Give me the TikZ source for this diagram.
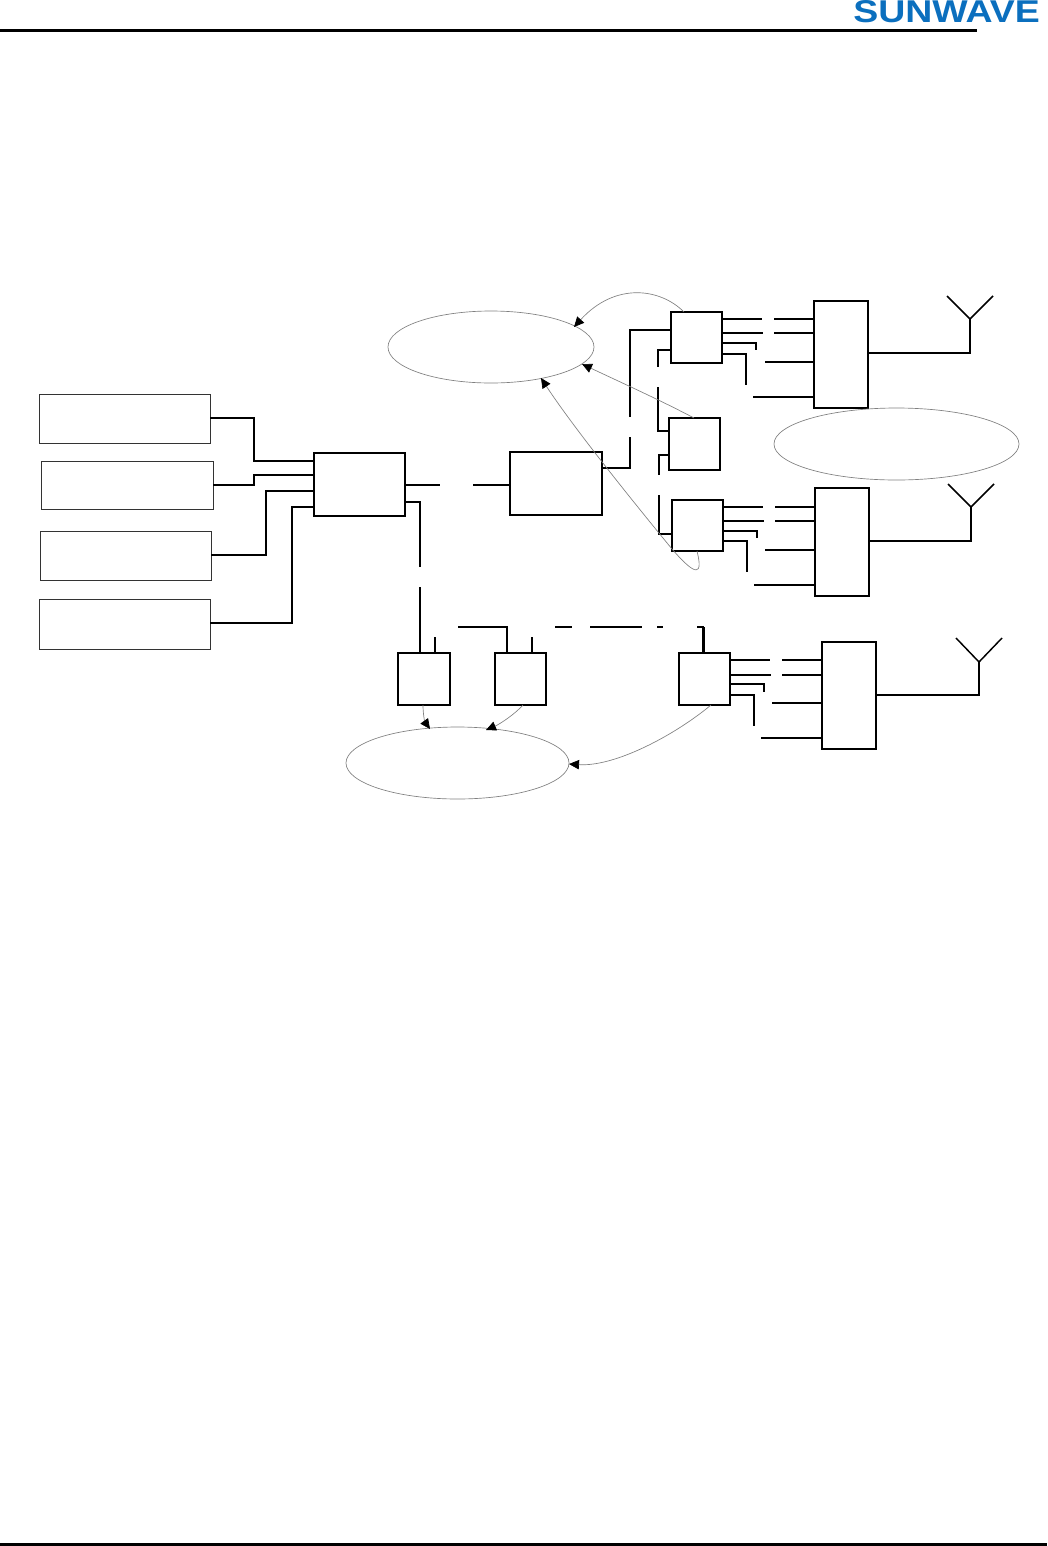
\documentclass[tikz,border=0pt]{standalone}
\usepackage{fontspec}
\usepackage{graphicx}
\setmainfont{Liberation Sans}
\usetikzlibrary{arrows.meta,calc}
\definecolor{logoblue}{HTML}{0B6FBE}
\definecolor{curvegrey}{HTML}{808080}
\tikzset{
  x=0.75pt,y=-0.75pt,
  thinbox/.style={draw=black!80,line width=0.6pt,inner sep=0pt,outer sep=0pt},
  blockbox/.style={draw=black,line width=1.1pt,inner sep=0pt,outer sep=0pt},
  cloud oval/.style={draw=curvegrey,line width=0.5pt,inner sep=0pt,outer sep=0pt},
  wire/.style={draw=black,line width=1.1pt,line join=miter},
  heavy/.style={wire,line width=1.7pt},
  link/.style={draw=curvegrey,line width=0.5pt,-{Triangle[length=7.5pt,width=7pt,fill=black,color=black]}},
  rule/.style={draw=black,line width=2.2pt}
}
\newcommand{\boxat}[6]{% style,name,x1,y1,x2,y2
  \node[#1,minimum width={(#5-#3)*0.75pt},minimum height={(#6-#4)*0.75pt},anchor=north west] (#2) at (#3,#4) {};}
\begin{document}
\begin{tikzpicture}
\path[use as bounding box] (0,0) rectangle (1047,1546);
% header / footer
\coordinate (hl) at (0,30.5); \coordinate (hr) at (977,30.5);
\coordinate (fl) at (0,1544.5); \coordinate (fr) at (1047,1544.5);
\draw[rule] (hl) -- (hr);
\draw[rule] (fl) -- (fr);
\node[anchor=south west,inner sep=0pt,text=logoblue] (logo) at (853,23)
  {\resizebox{140pt}{16.5pt}{\bfseries SUNWAVE}};
% left boxes
\boxat{thinbox}{ra}{39}{394}{210}{443}
\boxat{thinbox}{rb}{41}{461}{213}{509}
\boxat{thinbox}{rc}{40}{531}{211}{580}
\boxat{thinbox}{rd}{39}{599}{210}{649}
% blocks
\boxat{blockbox}{hub}{314}{453}{405}{516}
\boxat{blockbox}{mid}{510}{452}{602}{515}
\boxat{blockbox}{ea}{671}{312}{722}{363}
\boxat{blockbox}{eb}{669}{418}{720}{470}
\boxat{blockbox}{ec}{672}{500}{723}{551}
\boxat{blockbox}{aa}{814}{301}{868}{408}
\boxat{blockbox}{ab}{815}{488}{869}{596}
\boxat{blockbox}{ac}{822}{642}{876}{749}
\boxat{blockbox}{la}{398}{653}{450}{705}
\boxat{blockbox}{lb}{495}{653}{546}{705}
\boxat{blockbox}{lc}{679}{653}{730}{705}
% heavier edges of the blocks
\draw[heavy] (mid.north east) -- (mid.south east);
\draw[heavy] (ea.north west) -- (ea.south west) -- (ea.south east);
\draw[heavy] (aa.north west) -- (aa.south west);
\draw[heavy] (ab.north west) -- (ab.north east);
\draw[heavy] (lc.south west) -- (lc.south east);
\draw[heavy] (la.north east) -- (la.south east);
% ellipses
\draw[cloud oval] (491,347) ellipse [x radius=103,y radius=36] node (ovala) {};
\draw[cloud oval] (896.5,444) ellipse [x radius=122.5,y radius=36] node (ovalb) {};
\draw[cloud oval] (457.5,763) ellipse [x radius=111.5,y radius=36] node (ovalc) {};
\coordinate (ta) at (574,327);
\coordinate (tb) at (582,364);
\coordinate (tc) at (541,378);
\coordinate (td) at (430,729);
\coordinate (te) at (486,730);
\coordinate (tf) at (569,764);
% left to hub
\draw[wire] (ra.east |- 0,418) -| (254,461) -- (hub.west |- 0,461);
\draw[wire] (rb.east |- 0,485) -| (254,475) -- (hub.west |- 0,475);
\draw[wire] (rc.east |- 0,555) -| (266,491) -- (hub.west |- 0,491);
\draw[wire] (rd.east |- 0,623) -| (292,507) -- (hub.west |- 0,507);
% hub to mid
\draw[wire] (hub.east |- 0,485) -- (440,485) coordinate (g1);
\draw[wire] (mid.west |- 0,485) -- (473,485) coordinate (g2);
% hub to lower row
\draw[wire] (hub.east |- 0,502) -| (420,567) coordinate (g3);
\draw[wire] (la.north -| 420,0) -- (420,587) coordinate (g4);
\draw[wire] (la.north -| 435,0) -- (435,637) coordinate (g5);
\draw[wire] (lb.north -| 507,0) |- (458,627) coordinate (g6);
\draw[wire] (lb.north -| 532,0) -- (532,637) coordinate (g7);
\draw[wire] (555,627) coordinate (g8) -- (572,627) coordinate (g9);
\draw[wire] (590,627) coordinate (g10) -- (642,627) coordinate (g11);
\draw[wire] (657,627) coordinate (g12) -- (663,627) coordinate (g13);
\draw[heavy] (lc.north -| 703.5,0) -- (703.5,627);
\draw[wire] (703.5,627) -- (697,627) coordinate (g14);
% mid to upper column
\draw[wire] (mid.east |- 0,468) -| (630,437) coordinate (h1);
\draw[heavy] (ea.west |- 0,330) -| (630,417) coordinate (h2);
\draw[wire] (ea.west |- 0,350) -| (658,367) coordinate (h3);
\draw[wire] (eb.west |- 0,431) -| (658,387) coordinate (h4);
\draw[wire] (eb.west |- 0,455) -| (659,475) coordinate (h5);
\draw[wire] (ec.west |- 0,534) -| (659,495) coordinate (h6);
% first branch to antenna box
\draw[wire] (ea.east |- 0,319) -- (762,319) coordinate (i1);
\draw[wire] (aa.west |- 0,319) -- (774,319) coordinate (i2);
\draw[wire] (ea.east |- 0,333) -- (763,333) coordinate (i3);
\draw[wire] (aa.west |- 0,333) -- (774,333) coordinate (i4);
\draw[wire] (ea.east |- 0,343) -| (756,349.5) coordinate (i5);
\draw[wire] (ea.east |- 0,354) -| (746,385) coordinate (i6);
\draw[wire] (aa.west |- 0,362) -- (765,362) coordinate (i7);
\draw[wire] (aa.west |- 0,397) -- (753,397) coordinate (i8);
% second branch
\draw[wire] (ec.east |- 0,507) -- (763,507) coordinate (j1);
\draw[wire] (ab.west |- 0,507) -- (775,507) coordinate (j2);
\draw[wire] (ec.east |- 0,521) -- (764,521) coordinate (j3);
\draw[wire] (ab.west |- 0,521) -- (775,521) coordinate (j4);
\draw[wire] (ec.east |- 0,531) -| (757,538) coordinate (j5);
\draw[wire] (ec.east |- 0,541) -| (747,572) coordinate (j6);
\draw[wire] (ab.west |- 0,550) -- (765,550) coordinate (j7);
\draw[wire] (ab.west |- 0,585) -- (754,585) coordinate (j8);
% third branch
\draw[wire] (lc.east |- 0,660) -- (770,660) coordinate (k1);
\draw[wire] (ac.west |- 0,660) -- (782,660) coordinate (k2);
\draw[wire] (lc.east |- 0,675) -- (771,675) coordinate (k3);
\draw[wire] (ac.west |- 0,675) -- (782,675) coordinate (k4);
\draw[wire] (lc.east |- 0,684) -| (764,692) coordinate (k5);
\draw[wire] (lc.east |- 0,695) -| (754,726) coordinate (k6);
\draw[wire] (ac.west |- 0,703) -- (772,703) coordinate (k7);
\draw[wire] (ac.west |- 0,738) -- (761,738) coordinate (k8);
% antennas
\coordinate (ya) at (970,319); \coordinate (yb) at (971,507); \coordinate (yc) at (979,662);
\coordinate (yal) at (947,296); \coordinate (yar) at (993,296);
\coordinate (ybl) at (948,484); \coordinate (ybr) at (994,484);
\coordinate (ycl) at (956,638); \coordinate (ycr) at (1002,638);
\draw[wire] (aa.east |- 0,353) -| (ya);
\draw[heavy] (ab.east |- 0,541) -| (yb);
\draw[wire] (ac.east |- 0,695) -| (yc);
\draw[wire] (yal) -- (ya) -- (yar);
\draw[wire] (ybl) -- (yb) -- (ybr);
\draw[wire] (ycl) -- (yc) -- (ycr);
% grey links
\draw[link] (ea.north -| 684,0) .. controls (660,288) and (615,282) .. (ta);
\draw[link] (eb.north -| 694,0) .. controls (660,400) and (620,382) .. (tb);
\draw[link] (ec.south -| 697,0) .. controls (703,575) and (697,578) .. (672,549) .. controls (640,510) and (575,430) .. (tc);
\draw[link] (la.south -| 423,0) .. controls (423,715) and (425,722) .. (td);
\draw[link] (lb.south -| 523,0) .. controls (515,714) and (500,724) .. (te);
\draw[link] (lc.south -| 711,0) .. controls (675,735) and (615,767) .. (tf);
\end{tikzpicture}
\end{document}
